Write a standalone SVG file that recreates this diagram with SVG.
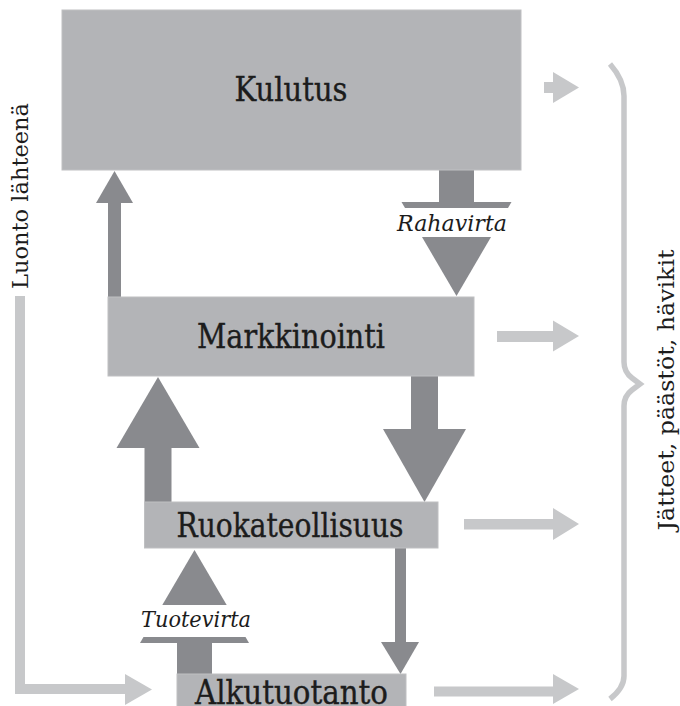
<svg xmlns="http://www.w3.org/2000/svg" width="680" height="706" viewBox="0 0 680 706">
<style>
.box{fill:#b3b4b7;stroke:#bfc0c2;stroke-width:1}
.lbl{font-family:"DejaVu Serif","Liberation Serif",serif;font-size:34px;fill:#1c1c1c;stroke:#1c1c1c;stroke-width:0.4;text-anchor:middle}
.it{font-family:"DejaVu Serif","Liberation Serif",serif;font-style:italic;font-size:23px;fill:#1c1c1c;text-anchor:middle}
.side{font-family:"DejaVu Serif","Liberation Serif",serif;font-size:23px;fill:#1c1c1c;text-anchor:middle}
.dk{fill:#898a8e}
.lt{fill:#c7c8ca}
</style>
<rect width="680" height="706" fill="#ffffff"/>
<g id="connectors">
  <rect class="dk" x="108" y="202" width="13" height="95"/>
  <polygon class="dk" points="114.5,171 133,203 96,203"/>
  <rect class="dk" x="439" y="170" width="35" height="32"/>
  <polygon class="dk" points="401.5,202 511.5,202 508,208 405,208"/>
  <polygon class="dk" points="422,237 491,237 456.5,296"/>
  <rect class="dk" x="411" y="376" width="27" height="54"/>
  <polygon class="dk" points="383,429 466,429 424.5,502"/>
  <rect class="dk" x="144.5" y="447" width="27" height="55"/>
  <polygon class="dk" points="158,377 199.5,448 116.5,448"/>
  <rect class="dk" x="395" y="548" width="11" height="95"/>
  <polygon class="dk" points="381,642 419,642 400.5,674"/>
  <polygon class="dk" points="194.5,550 226.7,605 162.3,605"/>
  <polygon class="dk" points="143.5,637 245.5,637 249,643 140,643"/>
  <rect class="dk" x="177" y="642" width="35" height="32"/>
  <rect class="lt" x="15" y="296" width="10" height="398"/>
  <rect class="lt" x="15" y="684" width="111" height="10"/>
  <polygon class="lt" points="125,674 125,705 152,689.5"/>
  <rect class="lt" x="544" y="82" width="11" height="11"/>
  <polygon class="lt" points="553,72 553,103 579,87.5"/>
  <rect class="lt" x="497" y="331" width="58" height="11"/>
  <polygon class="lt" points="553,320.5 553,351.5 579,336"/>
  <rect class="lt" x="464" y="519" width="91" height="10.5"/>
  <polygon class="lt" points="553,508 553,540 579,524"/>
  <rect class="lt" x="434" y="686.5" width="121" height="10"/>
  <polygon class="lt" points="553,674 553,704 579,689"/>
  <path d="M610,64 Q624,80 624,96 L624,362 Q624,372 632,378 L640,384 L632,390 Q624,396 624,406 L624,676 Q624,688 610,699" fill="none" stroke="#c7c8ca" stroke-width="5.5"/>
  <text class="it" x="452" y="231" textLength="110" lengthAdjust="spacingAndGlyphs">Rahavirta</text>
  <text class="it" x="196" y="627" textLength="110" lengthAdjust="spacingAndGlyphs">Tuotevirta</text>
</g>
<g id="kulutus">
  <rect class="box" x="62" y="10" width="459" height="160"/>
  <text class="lbl" x="291" y="101" textLength="113" lengthAdjust="spacingAndGlyphs">Kulutus</text>
</g>
<g id="markkinointi">
  <rect class="box" x="108" y="297" width="366" height="79"/>
  <text class="lbl" x="291" y="348" textLength="188" lengthAdjust="spacingAndGlyphs">Markkinointi</text>
</g>
<g id="ruokateollisuus">
  <rect class="box" x="144.5" y="502" width="293.5" height="46"/>
  <text class="lbl" x="290" y="537" textLength="227" lengthAdjust="spacingAndGlyphs">Ruokateollisuus</text>
</g>
<g id="alkutuotanto">
  <rect class="box" x="177" y="674" width="229" height="40"/>
  <text class="lbl" x="291.5" y="704" textLength="193" lengthAdjust="spacingAndGlyphs">Alkutuotanto</text>
</g>
<g id="luonto">
  <text class="side" transform="translate(28,196) rotate(-90)" textLength="186" lengthAdjust="spacingAndGlyphs">Luonto lähteenä</text>
</g>
<g id="jatteet">
  <text class="side" transform="translate(674,390) rotate(-90)" textLength="281" lengthAdjust="spacingAndGlyphs">Jätteet, päästöt, hävikit</text>
</g>
</svg>
